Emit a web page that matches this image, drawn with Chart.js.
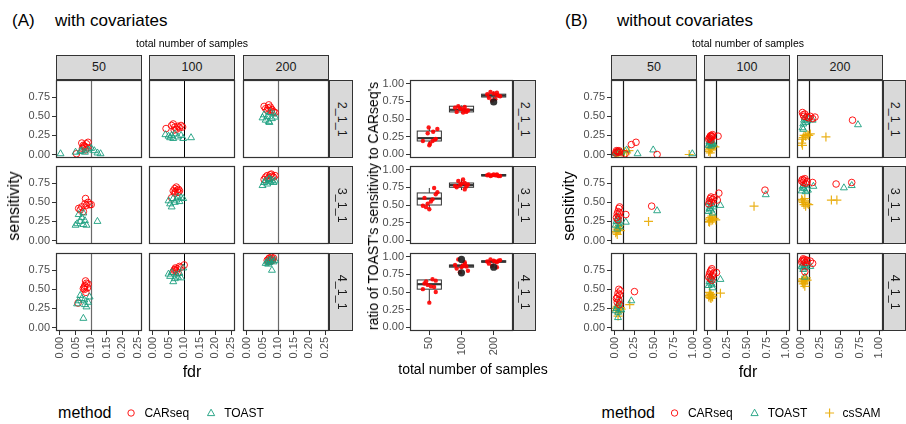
<!DOCTYPE html>
<html><head><meta charset="utf-8">
<script src="https://cdn.jsdelivr.net/npm/chart.js@4/dist/chart.umd.min.js"></script>
<style>
body{margin:0;background:#fff;width:906px;height:424px;overflow:hidden;position:relative;font-family:'Liberation Sans',Arial,sans-serif;}
.t{position:absolute;white-space:nowrap;color:#000;line-height:1;}
.strip{position:absolute;background:#D9D9D9;border:1px solid #333;box-sizing:border-box;display:flex;align-items:center;justify-content:center;font-size:12.5px;color:#1A1A1A;}
.strip span{display:inline-block;white-space:nowrap;line-height:1;}
canvas{position:absolute;}
</style></head><body>
<script>
// ---------------- DATA ----------------
const sampleSizes = ['50', '100', '200'];
const settings = ['2_1_1', '3_1_1', '4_1_1'];
const fdrTicksA = [0, 0.05, 0.10, 0.15, 0.20, 0.25];
const fdrTicksB = [0, 0.25, 0.50, 0.75, 1.00];
const sensTicks = [0, 0.25, 0.50, 0.75];
const ratioTicks = [0, 0.25, 0.50, 0.75, 1.00];
const fdrCutoff = 0.1;

// (A) with covariates: [setting][sample size] -> [fdr, sensitivity]
const covCARseq = [
 [[[0.07,0.15],[0.075,0.12],[0.08,0.10],[0.085,0.14],[0.09,0.16],[0.072,0.08],[0.082,0.06],[0.078,0.11],[0.088,0.09],[0.053,0.01]],
  [[0.042,0.34],[0.06,0.38],[0.065,0.40],[0.07,0.36],[0.075,0.33],[0.08,0.37],[0.085,0.35],[0.09,0.38],[0.095,0.36],[0.068,0.32]],
  [[0.055,0.63],[0.06,0.60],[0.065,0.58],[0.07,0.65],[0.075,0.62],[0.08,0.59],[0.085,0.56],[0.09,0.55],[0.068,0.61],[0.078,0.57]]],
 [[[0.06,0.42],[0.065,0.40],[0.07,0.44],[0.075,0.38],[0.08,0.48],[0.082,0.55],[0.085,0.46],[0.09,0.50],[0.095,0.47],[0.10,0.47]],
  [[0.06,0.56],[0.065,0.65],[0.07,0.68],[0.072,0.64],[0.075,0.70],[0.078,0.66],[0.08,0.63],[0.082,0.67],[0.085,0.65],[0.07,0.62]],
  [[0.055,0.80],[0.06,0.83],[0.065,0.85],[0.07,0.82],[0.075,0.86],[0.08,0.84],[0.085,0.83],[0.09,0.85],[0.068,0.81],[0.078,0.87]]],
 [[[0.075,0.51],[0.078,0.53],[0.08,0.55],[0.082,0.61],[0.085,0.58],[0.088,0.52],[0.09,0.57],[0.083,0.46],[0.079,0.50],[0.058,0.32]],
  [[0.065,0.73],[0.07,0.76],[0.072,0.78],[0.075,0.74],[0.078,0.77],[0.08,0.72],[0.085,0.80],[0.09,0.79],[0.10,0.82],[0.068,0.75]],
  [[0.065,0.88],[0.07,0.90],[0.072,0.91],[0.075,0.89],[0.078,0.92],[0.08,0.90],[0.082,0.88],[0.085,0.91],[0.07,0.86],[0.076,0.87]]]
];
const covTOAST = [
 [[[0.002,0.01],[0.05,0.03],[0.065,0.04],[0.07,0.05],[0.08,0.03],[0.09,0.06],[0.10,0.08],[0.11,0.05],[0.12,0.02],[0.13,0.01]],
  [[0.04,0.26],[0.05,0.24],[0.055,0.22],[0.06,0.25],[0.065,0.21],[0.07,0.27],[0.08,0.23],[0.09,0.25],[0.097,0.21],[0.122,0.22]],
  [[0.05,0.48],[0.055,0.52],[0.06,0.45],[0.065,0.50],[0.07,0.43],[0.075,0.55],[0.08,0.47],[0.085,0.53],[0.09,0.49],[0.072,0.42]]],
 [[[0.05,0.20],[0.055,0.22],[0.06,0.34],[0.065,0.25],[0.07,0.30],[0.075,0.21],[0.08,0.26],[0.085,0.20],[0.075,0.36],[0.12,0.25]],
  [[0.05,0.52],[0.055,0.48],[0.06,0.44],[0.065,0.55],[0.07,0.50],[0.075,0.53],[0.08,0.57],[0.085,0.51],[0.09,0.56],[0.097,0.55]],
  [[0.05,0.72],[0.055,0.76],[0.06,0.78],[0.065,0.74],[0.07,0.80],[0.075,0.77],[0.08,0.79],[0.085,0.76],[0.09,0.78],[0.072,0.81]]],
 [[[0.055,0.31],[0.06,0.35],[0.065,0.42],[0.07,0.38],[0.075,0.12],[0.08,0.30],[0.085,0.27],[0.09,0.33],[0.095,0.40],[0.078,0.36]],
  [[0.05,0.70],[0.055,0.67],[0.06,0.72],[0.065,0.60],[0.07,0.64],[0.075,0.69],[0.08,0.66],[0.085,0.71],[0.09,0.65],[0.097,0.78]],
  [[0.06,0.84],[0.065,0.86],[0.07,0.88],[0.072,0.85],[0.075,0.87],[0.08,0.75],[0.085,0.86],[0.09,0.88],[0.068,0.83],[0.078,0.89]]]
];

// ratio of TOAST's sensitivity to CARseq's: [setting][sample size]
const ratioBoxes = [   // [lower whisker, q1, median, q3, upper whisker]
 [[0.13,0.19,0.23,0.33,0.38],[0.58,0.60,0.63,0.68,0.69],[0.76,0.81,0.83,0.85,0.89]],
 [[0.44,0.50,0.59,0.67,0.74],[0.71,0.75,0.78,0.81,0.87],[0.90,0.91,0.92,0.93,0.93]],
 [[0.35,0.54,0.61,0.67,0.68],[0.83,0.85,0.87,0.88,0.90],[0.90,0.92,0.93,0.94,0.96]]
];
const ratioOutliers = [
 [[],[],[0.74]],
 [[],[],[]],
 [[],[0.77,0.96],[0.85]]
];
const ratioPoints = [  // [jitter offset, ratio]
 [[[-0.2,0.19],[0.0,0.13],[0.02,0.15],[-0.02,0.38],[0.12,0.32],[0.18,0.21],[0.25,0.36],[0.2,0.22],[-0.05,0.30],[0.1,0.19]],
  [[-0.2,0.66],[-0.1,0.68],[0,0.64],[0.1,0.67],[0.2,0.62],[-0.15,0.60],[0.05,0.59],[0.15,0.60],[-0.05,0.65],[0.1,0.63]],
  [[-0.2,0.85],[-0.1,0.88],[0,0.86],[0.1,0.84],[0.2,0.82],[-0.15,0.80],[0.05,0.78],[0.15,0.83],[-0.05,0.76],[0.1,0.87]]],
 [[[-0.2,0.49],[-0.1,0.47],[0,0.44],[0.1,0.58],[0.2,0.65],[-0.15,0.60],[0.05,0.55],[0.15,0.74],[0.25,0.68],[-0.05,0.52]],
  [[-0.2,0.77],[-0.1,0.84],[0,0.80],[0.1,0.72],[0.2,0.79],[-0.15,0.75],[0.05,0.86],[0.15,0.76],[-0.05,0.78],[0.1,0.81]],
  [[-0.2,0.92],[-0.1,0.91],[0,0.93],[0.1,0.92],[0.2,0.91],[-0.15,0.93],[0.05,0.92],[0.15,0.91],[-0.05,0.92],[0.1,0.93]]],
 [[[-0.2,0.54],[-0.1,0.65],[0,0.35],[0.1,0.68],[0.2,0.50],[-0.15,0.62],[0.05,0.58],[0.15,0.57],[0.2,0.66],[-0.05,0.60]],
  [[-0.2,0.88],[-0.1,0.96],[0,0.85],[0.1,0.90],[0.2,0.80],[-0.15,0.83],[0.05,0.87],[0.15,0.86],[-0.05,0.78],[0.1,0.92]],
  [[-0.2,0.93],[-0.1,0.96],[0,0.94],[0.1,0.92],[0.2,0.95],[-0.15,0.90],[0.05,0.93],[0.15,0.94],[-0.05,0.87],[0.1,0.85]]]
];

// (B) without covariates: [setting][sample size] -> [fdr, sensitivity]
const nocovCARseq = [
 [[[0.01,0.02],[0.02,0.05],[0.03,0.04],[0.04,0.03],[0.05,0.05],[0.06,0.03],[0.13,0.01],[0.21,0.13],[0.27,0.16],[0.54,0.0]],
  [[0.01,0.20],[0.02,0.22],[0.03,0.24],[0.04,0.25],[0.05,0.23],[0.06,0.26],[0.03,0.21],[0.04,0.19],[0.05,0.24],[0.13,0.24]],
  [[0.02,0.55],[0.03,0.52],[0.04,0.50],[0.05,0.53],[0.08,0.49],[0.10,0.48],[0.12,0.50],[0.15,0.47],[0.18,0.49],[0.66,0.45]]],
 [[[0.02,0.30],[0.03,0.35],[0.04,0.38],[0.05,0.42],[0.06,0.36],[0.04,0.27],[0.05,0.32],[0.06,0.44],[0.14,0.34],[0.47,0.45]],
  [[0.01,0.48],[0.02,0.52],[0.03,0.55],[0.04,0.57],[0.05,0.50],[0.06,0.54],[0.08,0.56],[0.12,0.53],[0.14,0.62],[0.73,0.66]],
  [[0.01,0.78],[0.02,0.80],[0.03,0.76],[0.04,0.79],[0.05,0.81],[0.06,0.75],[0.08,0.77],[0.15,0.76],[0.45,0.74],[0.65,0.76]]],
 [[[0.02,0.38],[0.03,0.40],[0.04,0.45],[0.05,0.50],[0.06,0.43],[0.07,0.48],[0.03,0.33],[0.05,0.36],[0.06,0.30],[0.25,0.47]],
  [[0.01,0.66],[0.02,0.70],[0.03,0.73],[0.04,0.75],[0.05,0.77],[0.06,0.68],[0.07,0.71],[0.03,0.64],[0.05,0.62],[0.11,0.72]],
  [[0.01,0.86],[0.02,0.88],[0.03,0.90],[0.04,0.87],[0.05,0.89],[0.06,0.85],[0.08,0.88],[0.12,0.87],[0.15,0.84],[0.05,0.73]]]
];
const nocovTOAST = [
 [[[0.005,0.01],[0.02,0.02],[0.03,0.04],[0.04,0.02],[0.05,0.03],[0.08,0.03],[0.15,0.06],[0.29,0.01],[0.49,0.06],[0.99,0.01]],
  [[0.01,0.12],[0.02,0.14],[0.03,0.16],[0.04,0.18],[0.05,0.15],[0.06,0.13],[0.03,0.20],[0.04,0.11],[0.07,0.14],[0.02,0.17]],
  [[0.02,0.35],[0.03,0.40],[0.04,0.45],[0.05,0.48],[0.06,0.42],[0.08,0.44],[0.10,0.46],[0.15,0.45],[0.03,0.33],[0.73,0.39]]],
 [[[0.01,0.20],[0.02,0.25],[0.03,0.28],[0.04,0.31],[0.05,0.22],[0.06,0.18],[0.03,0.15],[0.05,0.26],[0.14,0.24],[0.54,0.39]],
  [[0.01,0.38],[0.02,0.42],[0.03,0.45],[0.04,0.40],[0.05,0.47],[0.06,0.36],[0.02,0.50],[0.07,0.44],[0.16,0.46],[0.74,0.60]],
  [[0.01,0.65],[0.02,0.70],[0.03,0.72],[0.04,0.68],[0.05,0.74],[0.06,0.64],[0.09,0.66],[0.16,0.71],[0.55,0.69],[0.65,0.72]]],
 [[[0.01,0.22],[0.02,0.25],[0.03,0.28],[0.04,0.13],[0.05,0.32],[0.06,0.35],[0.07,0.24],[0.04,0.20],[0.08,0.23],[0.21,0.35]],
  [[0.01,0.55],[0.02,0.60],[0.03,0.63],[0.04,0.58],[0.05,0.65],[0.06,0.52],[0.07,0.62],[0.03,0.67],[0.05,0.56],[0.16,0.63]],
  [[0.01,0.80],[0.02,0.82],[0.03,0.78],[0.04,0.84],[0.05,0.81],[0.06,0.79],[0.08,0.83],[0.12,0.80],[0.03,0.76],[0.05,0.66]]]
];
const nocovCsSAM = [
 [[[0.0,0.0],[0.01,0.01],[0.02,0.02],[0.03,0.0],[0.05,0.01],[0.08,0.03],[0.12,0.04],[0.15,0.02],[0.18,0.05],[0.95,0.0]],
  [[0.01,0.04],[0.02,0.06],[0.03,0.08],[0.04,0.10],[0.05,0.07],[0.06,0.12],[0.03,0.02],[0.04,0.09],[0.07,0.11],[0.09,0.10]],
  [[0.01,0.15],[0.02,0.20],[0.03,0.22],[0.04,0.25],[0.06,0.24],[0.08,0.26],[0.10,0.25],[0.12,0.27],[0.02,0.12],[0.32,0.23]]],
 [[[0.01,0.10],[0.02,0.12],[0.03,0.15],[0.04,0.18],[0.05,0.14],[0.06,0.20],[0.03,0.08],[0.05,0.16],[0.07,0.13],[0.43,0.25]],
  [[0.01,0.25],[0.02,0.28],[0.03,0.30],[0.04,0.26],[0.05,0.32],[0.06,0.27],[0.08,0.29],[0.10,0.27],[0.02,0.24],[0.59,0.45]],
  [[0.01,0.54],[0.02,0.52],[0.03,0.50],[0.04,0.47],[0.05,0.55],[0.06,0.45],[0.08,0.48],[0.10,0.47],[0.39,0.53],[0.46,0.53]]],
 [[[0.01,0.22],[0.02,0.25],[0.03,0.27],[0.04,0.15],[0.05,0.20],[0.06,0.23],[0.07,0.26],[0.04,0.28],[0.08,0.24],[0.19,0.30]],
  [[0.01,0.40],[0.02,0.42],[0.03,0.44],[0.04,0.38],[0.05,0.41],[0.02,0.46],[0.03,0.39],[0.04,0.43],[0.06,0.40],[0.16,0.45]],
  [[0.01,0.62],[0.02,0.60],[0.03,0.64],[0.04,0.58],[0.05,0.63],[0.06,0.61],[0.07,0.65],[0.08,0.62],[0.03,0.57],[0.05,0.54]]]
];

// ---------------- STYLE / LAYOUT ----------------
Chart.defaults.font.family = "'Liberation Sans', Arial, sans-serif";
const TICK_FONT = {size: 11};
const TICK_COLOR = '#4D4D4D';
const COL = {CARseq: 'rgba(255,0,0,0.9)', TOAST: 'rgba(27,158,126,0.9)', csSAM: 'rgba(232,168,0,0.9)'};
const PW = 86, PH = 78;
const rowTops = [80, 166, 253];
const colLeftsA = [56, 149, 243];
const colLeftsB = [611, 704, 797];
const boxLeft = 410, boxW = 103;

function fixedTicks(vals){ return s => { s.ticks = vals.map(v => ({value: v})); }; }

function panelPlugin(p){
  return {
    id: 'panelDeco',
    beforeDatasetsDraw(chart){
      const {ctx, chartArea: a, scales} = chart;
      ctx.save();
      if (p.vline != null) {
        const x = Math.round(scales.x.getPixelForValue(p.vline)) + 0.5;
        ctx.strokeStyle = p.vlineColor; ctx.lineWidth = p.vlineWidth || 1;
        ctx.beginPath(); ctx.moveTo(x, a.top); ctx.lineTo(x, a.bottom); ctx.stroke();
      }
      if (p.boxes) {
        p.boxes.forEach((b, i) => {
          const cx = scales.x.getPixelForValue(i + 1);
          const half = scales.x.getPixelForValue(i + 1 + 0.375) - cx;
          const [lo, q1, md, q3, hi] = b.map(v => scales.y.getPixelForValue(v));
          ctx.strokeStyle = '#333'; ctx.lineWidth = 1;
          ctx.beginPath(); ctx.moveTo(cx, lo); ctx.lineTo(cx, q1); ctx.moveTo(cx, q3); ctx.lineTo(cx, hi); ctx.stroke();
          ctx.fillStyle = '#fff';
          ctx.fillRect(cx - half, q3, 2 * half, q1 - q3);
          ctx.strokeRect(cx - half, q3, 2 * half, q1 - q3);
          ctx.lineWidth = 2.2;
          ctx.beginPath(); ctx.moveTo(cx - half, md); ctx.lineTo(cx + half, md); ctx.stroke();
        });
      }
      ctx.restore();
    },
    afterDatasetsDraw(chart){
      const {ctx, chartArea: a} = chart;
      ctx.save();
      ctx.strokeStyle = '#333'; ctx.lineWidth = 1.2;
      ctx.strokeRect(a.left + 0.5, a.top + 0.5, a.right - a.left - 1, a.bottom - a.top - 1);
      ctx.restore();
    }
  };
}

function makePanel(p){
  const L = p.showY ? 54 : 16, R = 16, T = 14, B = p.showX ? 40 : 14;
  const cv = document.createElement('canvas');
  const W = L + p.w + R, H = T + p.h + B;
  cv.width = W; cv.height = H; cv.style.width = W + 'px'; cv.style.height = H + 'px';
  cv.style.left = (p.x - L) + 'px'; cv.style.top = (p.y - T) + 'px';
  document.body.appendChild(cv);
  const axisCommon = (show, vals, fmt, min, max, pos, fitFn) => ({
    type: 'linear', position: pos, min, max,
    afterBuildTicks: fixedTicks(vals), afterFit: fitFn,
    ticks: {display: show, autoSkip: false, padding: 2, font: TICK_FONT, color: TICK_COLOR, callback: fmt,
            minRotation: pos === 'bottom' ? 90 : 0, maxRotation: pos === 'bottom' ? 90 : 0},
    grid: {display: show, drawOnChartArea: false, drawTicks: true, tickLength: 4, tickColor: '#333', tickWidth: 1},
    border: {display: false}
  });
  const dummy = (pos, fitFn) => ({type: 'linear', position: pos, display: true,
    ticks: {display: false}, grid: {display: false}, border: {display: false}, afterFit: fitFn});
  const chart = new Chart(cv, {
    type: 'scatter',
    data: {datasets: p.datasets},
    options: {
      responsive: false, animation: false, devicePixelRatio: 1, events: [],
      layout: {padding: 0},
      plugins: {legend: {display: false}, tooltip: {enabled: false}},
      scales: {
        x: axisCommon(p.showX, p.xTicks, p.xFmt, p.xMin, p.xMax, 'bottom', s => { s.height = B; }),
        y: axisCommon(p.showY, p.yTicks, v => v.toFixed(2), p.yMin, p.yMax, 'left', s => { s.width = L; }),
        xTop: dummy('top', s => { s.height = T; }),
        yRight: dummy('right', s => { s.width = R; })
      }
    },
    plugins: [panelPlugin(p)]
  });
  const ca = chart.chartArea;
  cv.style.left = (p.x - ca.left) + 'px';
  cv.style.top = (p.y - ca.top) + 'px';
  return chart;
}

function pts(arr){ return arr.map(([x, y]) => ({x, y})); }
function methodDataset(name, arr){
  const st = {
    CARseq: {pointStyle: 'circle', pointRadius: 3.3, pointBorderWidth: 1},
    TOAST: {pointStyle: 'triangle', pointRadius: 4, pointBorderWidth: 1},
    csSAM: {pointStyle: 'cross', pointRadius: 4.5, pointBorderWidth: 1.2}
  }[name];
  return Object.assign({label: name, data: pts(arr), borderColor: COL[name], pointBorderColor: COL[name],
    backgroundColor: 'transparent', pointBackgroundColor: 'transparent', showLine: false}, st);
}

function text(str, x, y, size, rot, extra){
  const d = document.createElement('div'); d.className = 't'; d.textContent = str;
  d.style.left = x + 'px'; d.style.top = y + 'px'; d.style.fontSize = size + 'px';
  d.style.transform = 'translate(-50%,-50%)' + (rot ? ` rotate(${rot}deg)` : '');
  if (extra) Object.assign(d.style, extra);
  document.body.appendChild(d); return d;
}
function textLeft(str, x, y, size){
  const d = text(str, x, y, size); d.style.transform = 'translate(0,-50%)'; return d;
}
function strip(label, x, y, w, h, vertical){
  const d = document.createElement('div'); d.className = 'strip';
  Object.assign(d.style, {left: x + 'px', top: y + 'px', width: w + 'px', height: h + 'px'});
  const s = document.createElement('span'); s.textContent = label;
  if (vertical) s.style.transform = 'rotate(90deg)';
  d.appendChild(s); document.body.appendChild(d);
}
function markerSVG(name){
  const c = COL[name];
  let shape = '';
  if (name === 'CARseq') shape = `<circle cx="8" cy="8" r="3.2" fill="none" stroke="${c}" stroke-width="1"/>`;
  if (name === 'TOAST') shape = `<polygon points="8,4.2 11.6,10.6 4.4,10.6" fill="none" stroke="${c}" stroke-width="1"/>`;
  if (name === 'csSAM') shape = `<path d="M8 3.5V12.5M3.5 8H12.5" stroke="${c}" stroke-width="1.2"/>`;
  return `<svg width="16" height="16" style="display:block">${shape}</svg>`;
}
function legend(cx, cy, names){
  const d = document.createElement('div');
  Object.assign(d.style, {position: 'absolute', left: cx + 'px', top: cy + 'px', transform: 'translate(-50%,-50%)',
    display: 'flex', alignItems: 'center', whiteSpace: 'nowrap', lineHeight: '1'});
  let html = `<span style="font-size:16px;margin-right:12px">method</span>`;
  names.forEach(n => {
    html += markerSVG(n) + `<span style="font-size:12px;margin-left:5px;margin-right:14px">${n}</span>`;
  });
  d.innerHTML = html; document.body.appendChild(d);
}

// ---------------- BUILD ----------------
const vlineColA = ['#6a6a6a', '#000000', '#6a6a6a'];
for (let r = 0; r < 3; r++) {
  for (let c = 0; c < 3; c++) {
    makePanel({x: colLeftsA[c], y: rowTops[r], w: PW, h: PH, showX: r === 2, showY: c === 0,
      xMin: -0.0125, xMax: 0.2625, xTicks: fdrTicksA, xFmt: v => v.toFixed(2),
      yMin: -0.046, yMax: 0.976, yTicks: sensTicks,
      vline: fdrCutoff, vlineColor: vlineColA[c], vlineWidth: c === 1 ? 1 : 1.2,
      datasets: [methodDataset('TOAST', covTOAST[r][c]), methodDataset('CARseq', covCARseq[r][c])]});
    makePanel({x: colLeftsB[c], y: rowTops[r], w: PW, h: PH, showX: r === 2, showY: c === 0,
      xMin: -0.05, xMax: 1.05, xTicks: fdrTicksB, xFmt: v => v.toFixed(2),
      yMin: -0.046, yMax: 0.976, yTicks: sensTicks,
      vline: fdrCutoff, vlineColor: '#1a1a1a', vlineWidth: 1.2,
      datasets: [methodDataset('CARseq', nocovCARseq[r][c]), methodDataset('TOAST', nocovTOAST[r][c]),
                 methodDataset('csSAM', nocovCsSAM[r][c])]});
  }
  // ratio boxplots
  const outl = [], jit = [];
  ratioOutliers[r].forEach((vals, c) => vals.forEach(v => outl.push([c + 1, v])));
  ratioPoints[r].forEach((vals, c) => vals.forEach(([o, v]) => jit.push([c + 1 + o, v])));
  makePanel({x: boxLeft, y: rowTops[r], w: boxW, h: PH, showX: r === 2, showY: true,
    xMin: 0.4, xMax: 3.6, xTicks: [1, 2, 3], xFmt: (v, i) => sampleSizes[i],
    yMin: -0.05, yMax: 1.05, yTicks: ratioTicks,
    boxes: ratioBoxes[r],
    datasets: [
      {label: 'outliers', data: pts(outl), pointRadius: 3.6, pointBackgroundColor: 'rgba(30,30,30,0.9)', pointBorderColor: 'rgba(30,30,30,0.9)', pointBorderWidth: 0},
      {label: 'ratio', data: pts(jit), pointRadius: 2.2, pointBackgroundColor: 'rgba(255,0,0,0.9)', pointBorderColor: 'rgba(255,0,0,0.9)', pointBorderWidth: 0}
    ]});
}

// strips
for (let c = 0; c < 3; c++) {
  strip(sampleSizes[c], colLeftsA[c], 55, PW, 25, false);
  strip(sampleSizes[c], colLeftsB[c], 55, PW, 25, false);
}
for (let r = 0; r < 3; r++) {
  strip(settings[r], colLeftsA[2] + PW, rowTops[r], 24, PH, true);
  strip(settings[r], boxLeft + boxW, rowTops[r], 23, PH, true);
  strip(settings[r], colLeftsB[2] + PW, rowTops[r], 906 - (colLeftsB[2] + PW), PH, true);
}

// titles and axis titles
textLeft('(A)', 12, 20, 17);
textLeft('with covariates', 55, 20, 17);
text('total number of samples', 192, 43, 10.5);
textLeft('(B)', 565, 20, 17);
textLeft('without covariates', 617, 20, 17);
text('total number of samples', 748, 43, 10.5);
text('sensitivity', 14, 206, 16, -90);
text('fdr', 192, 372, 16);
text("ratio of TOAST's sensitivity to CARseq's", 373, 206, 14, -90);
text('total number of samples', 473, 369, 14);
text('sensitivity', 569, 206, 16, -90);
text('fdr', 748, 372, 16);

legend(168, 413, ['CARseq', 'TOAST']);
legend(748, 413, ['CARseq', 'TOAST', 'csSAM']);
</script>
</body></html>
